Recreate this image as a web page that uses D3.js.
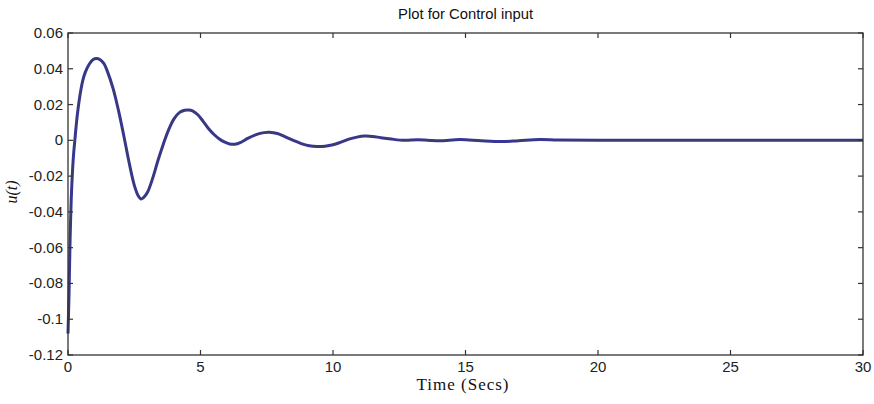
<!DOCTYPE html>
<html><head><meta charset="utf-8">
<script src="https://cdn.jsdelivr.net/npm/d3@7"></script>
<style>body{margin:0;background:#fff}svg{display:block}</style>
</head><body>
<svg id="c" width="874" height="404"></svg>
<script>
const timeVals = [0,0.04,0.08,0.13,0.2,0.27,0.35,0.45,0.55,0.65,0.8,0.95,1.08,1.2,1.35,1.5,1.7,1.9,2.1,2.3,2.5,2.65,2.75,2.85,3.0,3.2,3.4,3.6,3.8,4.0,4.2,4.4,4.55,4.7,4.9,5.1,5.3,5.5,5.7,5.9,6.1,6.3,6.5,6.8,7.1,7.4,7.6,7.9,8.2,8.5,8.8,9.1,9.4,9.7,10.0,10.3,10.6,10.9,11.2,11.5,11.8,12.2,12.7,13.2,14,14.8,15.6,16.4,17,17.8,18.5,20,25,30];
const uVals = [-0.108,-0.085,-0.055,-0.03,-0.01,0.002,0.014,0.025,0.033,0.038,0.0425,0.0452,0.0457,0.0452,0.043,0.038,0.029,0.017,0.003,-0.012,-0.025,-0.031,-0.0328,-0.032,-0.029,-0.021,-0.011,-0.002,0.006,0.012,0.0155,0.0168,0.017,0.0165,0.0143,0.0106,0.0066,0.0034,0.0009,-0.0009,-0.002,-0.0022,-0.0013,0.0012,0.0032,0.0043,0.0045,0.0038,0.002,0.0,-0.0018,-0.003,-0.0035,-0.0033,-0.0025,-0.001,0.0007,0.0018,0.0024,0.0022,0.0015,0.0007,0.0,0.0003,-0.0002,0.0004,-0.0003,-0.0007,-0.0002,0.0005,0.0002,0,0,0];
const xTicks = [0,5,10,15,20,25,30];
const yTicks = [-0.12,-0.1,-0.08,-0.06,-0.04,-0.02,0,0.02,0.04,0.06];
const titleText = "Plot for Control input";
const xLabel = "Time (Secs)";
const yLabel = "u(t)";

const L=68,R=863,T=33,B=355;
const svg=d3.select("#c");
const x=d3.scaleLinear().domain([0,30]).range([L,R]);
const y=d3.scaleLinear().domain([-0.12,0.06]).range([B,T]);
const data=timeVals.map((t,i)=>({t,u:uVals[i]}));

const line=d3.line().x(d=>x(d.t)).y(d=>y(d.u)).curve(d3.curveCatmullRom.alpha(0.5));
svg.append("path").datum(data).attr("d",line).attr("fill","none")
  .attr("stroke","#3535a0").attr("stroke-width",3);
svg.append("path").datum(data).attr("d",line).attr("fill","none")
  .attr("stroke","#3c3c6e").attr("stroke-width",1.4);

const tickLen=5;
const g=svg.append("g").attr("stroke","#333").attr("stroke-width",1.2);
xTicks.forEach(t=>{
  g.append("line").attr("x1",x(t)).attr("x2",x(t)).attr("y1",B).attr("y2",B-tickLen);
  g.append("line").attr("x1",x(t)).attr("x2",x(t)).attr("y1",T).attr("y2",T+tickLen);
});
yTicks.forEach(v=>{
  g.append("line").attr("x1",L).attr("x2",L+tickLen).attr("y1",y(v)).attr("y2",y(v));
  g.append("line").attr("x1",R).attr("x2",R-tickLen).attr("y1",y(v)).attr("y2",y(v));
});
svg.append("rect").attr("x",L).attr("y",T).attr("width",R-L).attr("height",B-T)
  .attr("fill","none").attr("stroke","#333").attr("stroke-width",1.3);

const fmt=v=>{ if(Math.abs(v)<1e-9) return "0"; return String(+v.toFixed(2)); };
svg.append("g").selectAll("text").data(xTicks).join("text")
  .attr("x",d=>x(d)).attr("y",B+17).attr("text-anchor","middle")
  .attr("font-family","Liberation Sans, Arial, sans-serif").attr("font-size",15).attr("fill","#222")
  .text(d=>d);
svg.append("g").selectAll("text").data(yTicks).join("text")
  .attr("x",L-5).attr("y",d=>y(d)+5).attr("text-anchor","end")
  .attr("font-family","Liberation Sans, Arial, sans-serif").attr("font-size",15).attr("fill","#222")
  .text(d=>fmt(d));

svg.append("text").attr("x",(L+R)/2).attr("y",19).attr("text-anchor","middle")
  .attr("font-family","Liberation Sans, Arial, sans-serif").attr("font-size",14.5).attr("fill","#111")
  .attr("textLength",135).attr("lengthAdjust","spacingAndGlyphs")
  .text(titleText);
svg.append("text").attr("x",463).attr("y",390).attr("text-anchor","middle")
  .attr("font-family","Liberation Serif, Times New Roman, serif").attr("font-size",17).attr("fill","#111")
  .attr("letter-spacing",1)
  .text(xLabel);
svg.append("text").attr("transform",`translate(17,192) rotate(-90)`).attr("text-anchor","middle")
  .attr("font-family","Liberation Serif, Times New Roman, serif").attr("font-style","italic").attr("font-size",16).attr("fill","#111")
  .text(yLabel);
</script>
</body></html>
